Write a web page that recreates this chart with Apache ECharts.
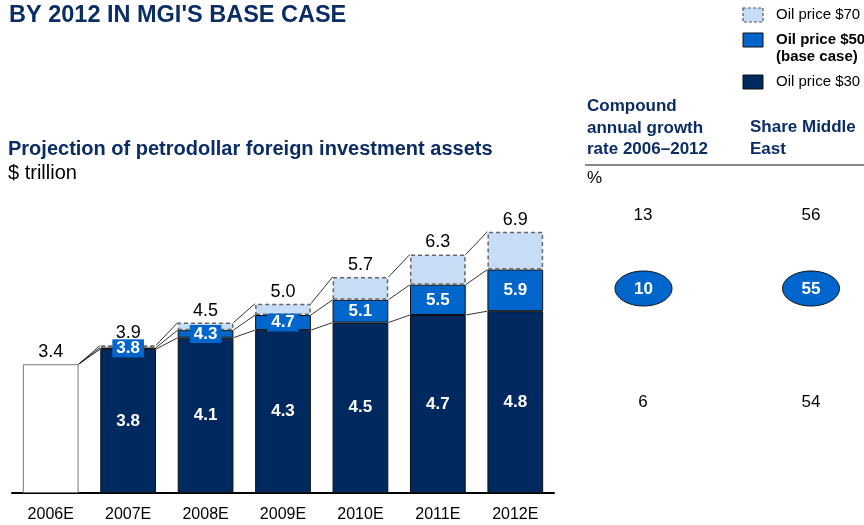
<!DOCTYPE html>
<html>
<head>
<meta charset="utf-8">
<script src="https://cdn.jsdelivr.net/npm/echarts@6/dist/echarts.min.js"></script>
<style>
  html, body { margin: 0; padding: 0; background: #fff; }
  #chart { width: 864px; height: 525px; }
</style>
</head>
<body>
<div id="chart"></div>
<script>
// data
var years = ['2006E', '2007E', '2008E', '2009E', '2010E', '2011E', '2012E'];
var base2006 = 3.4;
var oil30 = [3.8, 4.1, 4.3, 4.5, 4.7, 4.8];   // 2007E-2012E
var oil50 = [3.84, 4.3, 4.7, 5.1, 5.5, 5.9];
var oil70 = [3.9, 4.5, 5.0, 5.7, 6.3, 6.9];
var cagr = [13, 10, 6];
var shareME = [56, 55, 54];

var NAVY = '#002a5f';
var BLUE = '#0066cc';
var LIGHT = '#c7ddf5';
var TEXTNAVY = '#0b2d66';
var FONT = 'Liberation Sans, Arial, sans-serif';

var chart = echarts.init(document.getElementById('chart'));

// stacked segments
var darkData = [{
    value: base2006,
    itemStyle: { color: '#fff', borderColor: '#777', borderWidth: 1 },
    label: { position: 'top', color: '#000', fontWeight: 'normal', fontSize: 18, distance: 3 }
}].concat(oil30);
var blueData = ['-'].concat(oil50.map(function (v, i) { return v - oil30[i]; }));
var lightData = ['-'].concat(oil70.map(function (v, i) { return v - oil50[i]; }));

// connector lines between neighbouring bars
var lv30 = [base2006].concat(oil30);
var lv50 = [base2006].concat(oil50);
var lv70 = [base2006].concat(oil70);
var linkData = [];
for (var i = 0; i < years.length - 1; i++) {
    linkData.push([i, lv30[i], lv50[i], lv70[i], lv30[i + 1], lv50[i + 1], lv70[i + 1]]);
}

var option = {
    animation: false,
    textStyle: { fontFamily: FONT },
    grid: { left: 12, right: 310, top: 190, bottom: 32 },
    xAxis: {
        type: 'category',
        data: years,
        axisLine: { lineStyle: { color: '#000', width: 2 } },
        axisTick: { show: false },
        axisLabel: { color: '#000', fontSize: 16, margin: 14, fontFamily: FONT }
    },
    yAxis: { type: 'value', min: 0, max: 8, show: false, splitLine: { show: false } },
    series: [
        {
            name: 'Oil price $30',
            type: 'bar',
            stack: 'oil',
            barWidth: '72%',
            data: darkData,
            itemStyle: { color: NAVY, borderColor: '#111', borderWidth: 1 },
            label: {
                show: true, position: 'inside', color: '#fff', fontWeight: 'bold', fontSize: 17,
                formatter: function (p) { return p.dataIndex === 0 ? base2006.toFixed(1) : oil30[p.dataIndex - 1].toFixed(1); }
            }
        },
        {
            name: 'Oil price $50',
            type: 'bar',
            stack: 'oil',
            data: blueData,
            itemStyle: { color: BLUE, borderColor: '#111', borderWidth: 1 },
            label: {
                show: true, position: 'inside', color: '#fff', fontWeight: 'bold', fontSize: 17,
                backgroundColor: BLUE, padding: [1, 4, 0, 4],
                formatter: function (p) { return oil50[p.dataIndex - 1].toFixed(1); }
            }
        },
        {
            name: 'Oil price $70',
            type: 'bar',
            stack: 'oil',
            data: lightData,
            itemStyle: { color: LIGHT, borderColor: '#666', borderWidth: 1.5, borderType: [4, 3] },
            label: {
                show: true, position: 'top', color: '#000', fontSize: 18, distance: 3,
                formatter: function (p) { return oil70[p.dataIndex - 1].toFixed(1); }
            }
        },
        {
            type: 'custom',
            silent: true,
            data: linkData,
            encode: { x: 0, y: 1 },
            z: 1,
            renderItem: function (params, api) {
                var idx = api.value(0);
                var half = api.size([1, 0])[0] * 0.36;
                var kids = [];
                for (var k = 0; k < 3; k++) {
                    var a = api.coord([idx, api.value(1 + k)]);
                    var b = api.coord([idx + 1, api.value(4 + k)]);
                    kids.push({
                        type: 'line',
                        shape: { x1: a[0] + half, y1: a[1], x2: b[0] - half, y2: b[1] },
                        style: { stroke: '#000', lineWidth: 0.8 }
                    });
                }
                return { type: 'group', children: kids };
            }
        }
    ],
    graphic: [
        { type: 'text', left: 9, top: 4, style: { text: "BY 2012 IN MGI'S BASE CASE", font: 'bold 23.5px ' + FONT, fill: TEXTNAVY } },
        { type: 'text', left: 8, top: 139, style: { text: 'Projection of petrodollar foreign investment assets', font: 'bold 20px ' + FONT, fill: TEXTNAVY } },
        { type: 'text', left: 8, top: 163, style: { text: '$ trillion', font: '20px ' + FONT, fill: '#000' } },

        // legend
        { type: 'rect', shape: { x: 743, y: 8, width: 20, height: 14 }, style: { fill: LIGHT, stroke: '#555', lineWidth: 1.2, lineDash: [3, 2] } },
        { type: 'text', left: 776, top: 7, style: { text: 'Oil price $70', font: '15px ' + FONT, fill: '#000' } },
        { type: 'rect', shape: { x: 743, y: 33, width: 20, height: 14 }, style: { fill: BLUE, stroke: '#111', lineWidth: 1 } },
        { type: 'text', left: 776, top: 31, style: { text: 'Oil price $50\n(base case)', font: 'bold 15px ' + FONT, fill: '#000', lineHeight: 17 } },
        { type: 'rect', shape: { x: 743, y: 75, width: 20, height: 14 }, style: { fill: NAVY, stroke: '#111', lineWidth: 1 } },
        { type: 'text', left: 776, top: 74, style: { text: 'Oil price $30', font: '15px ' + FONT, fill: '#000' } },

        // table header
        { type: 'text', left: 587, top: 96, style: { text: 'Compound\nannual growth\nrate 2006\u20132012', font: 'bold 17px ' + FONT, fill: TEXTNAVY, lineHeight: 21.5 } },
        { type: 'text', left: 750, top: 117, style: { text: 'Share Middle\nEast', font: 'bold 17px ' + FONT, fill: TEXTNAVY, lineHeight: 21.5 } },
        { type: 'line', shape: { x1: 585, y1: 165, x2: 864, y2: 165 }, style: { stroke: '#888', lineWidth: 2 } },
        { type: 'text', left: 587, top: 170, style: { text: '%', font: '17px ' + FONT, fill: '#000' } },

        // table values
        { type: 'text', x: 643, y: 215, style: { text: String(cagr[0]), font: '17px ' + FONT, fill: '#000', align: 'center', verticalAlign: 'middle' } },
        { type: 'text', x: 811, y: 215, style: { text: String(shareME[0]), font: '17px ' + FONT, fill: '#000', align: 'center', verticalAlign: 'middle' } },
        { type: 'ellipse', shape: { cx: 643.5, cy: 288.5, rx: 28.5, ry: 17.5 }, style: { fill: BLUE, stroke: '#111', lineWidth: 1 } },
        { type: 'text', x: 643.5, y: 289, style: { text: String(cagr[1]), font: 'bold 17px ' + FONT, fill: '#fff', align: 'center', verticalAlign: 'middle' } },
        { type: 'ellipse', shape: { cx: 811, cy: 288.5, rx: 28.5, ry: 17.5 }, style: { fill: BLUE, stroke: '#111', lineWidth: 1 } },
        { type: 'text', x: 811, y: 289, style: { text: String(shareME[1]), font: 'bold 17px ' + FONT, fill: '#fff', align: 'center', verticalAlign: 'middle' } },
        { type: 'text', x: 643, y: 402, style: { text: String(cagr[2]), font: '17px ' + FONT, fill: '#000', align: 'center', verticalAlign: 'middle' } },
        { type: 'text', x: 811, y: 402, style: { text: String(shareME[2]), font: '17px ' + FONT, fill: '#000', align: 'center', verticalAlign: 'middle' } }
    ]
};

chart.setOption(option);
</script>
</body>
</html>
